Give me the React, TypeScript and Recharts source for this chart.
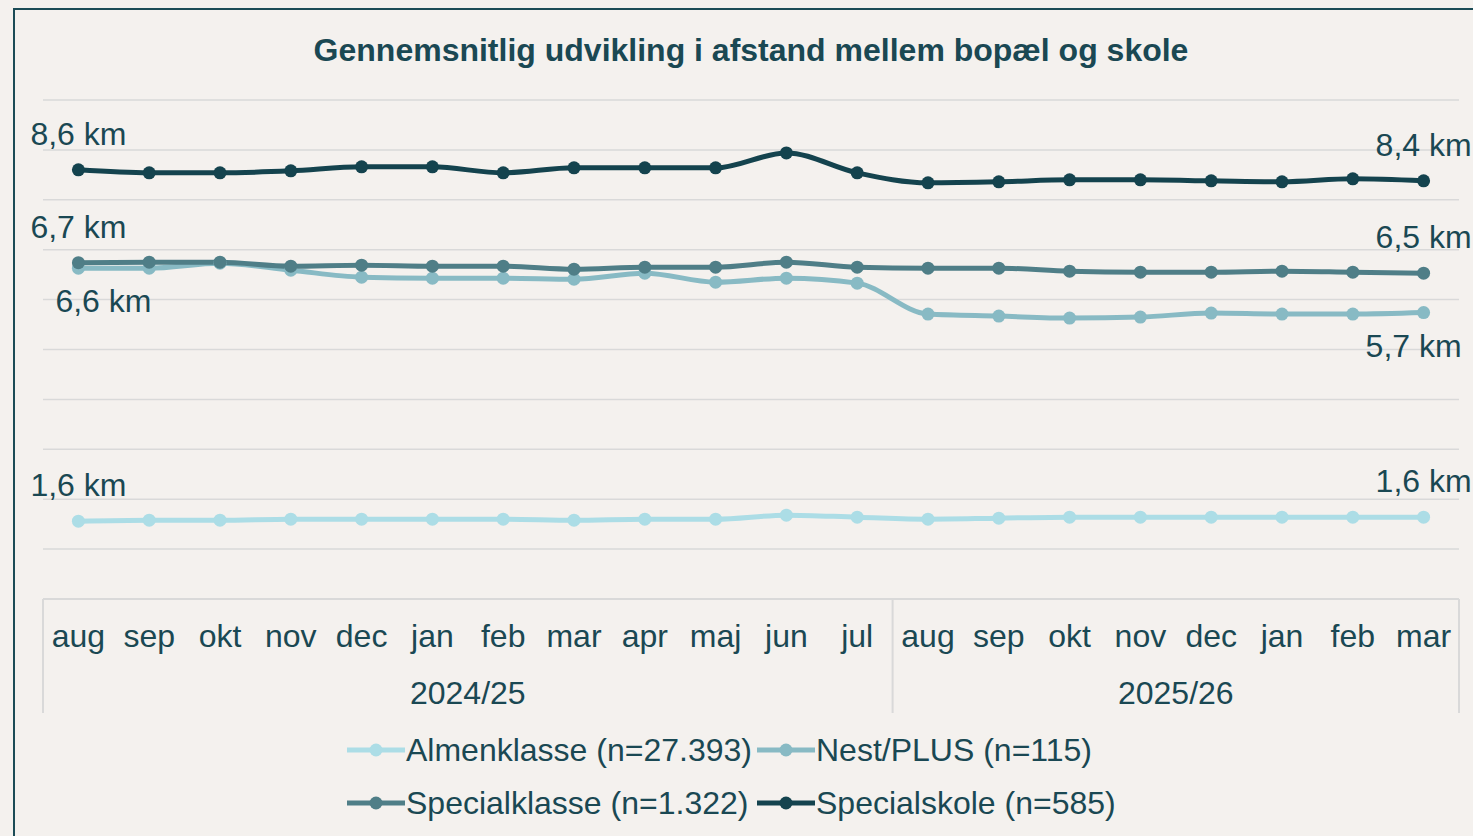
import React from "react";
import { LineChart, Line, XAxis, YAxis, CartesianGrid, LabelList } from "recharts";

// Months on the category axis, with the school year each one belongs to
const months = [
  "aug", "sep", "okt", "nov", "dec", "jan", "feb", "mar", "apr", "maj", "jun", "jul",
  "aug", "sep", "okt", "nov", "dec", "jan", "feb", "mar",
];
const seasons = [
  "2024/25", "2024/25", "2024/25", "2024/25", "2024/25", "2024/25",
  "2024/25", "2024/25", "2024/25", "2024/25", "2024/25", "2024/25",
  "2025/26", "2025/26", "2025/26", "2025/26", "2025/26", "2025/26", "2025/26", "2025/26",
];

// Average distance home - school (km)
const almenklasse = [1.56, 1.58, 1.58, 1.6, 1.6, 1.6, 1.6, 1.58, 1.6, 1.6, 1.68, 1.64, 1.6, 1.62, 1.64, 1.64, 1.64, 1.64, 1.64, 1.64];
const nestPlus = [6.63, 6.63, 6.73, 6.59, 6.45, 6.43, 6.43, 6.41, 6.53, 6.35, 6.43, 6.33, 5.71, 5.67, 5.63, 5.65, 5.73, 5.71, 5.71, 5.74];
const specialklasse = [6.74, 6.75, 6.75, 6.67, 6.69, 6.67, 6.67, 6.61, 6.65, 6.65, 6.75, 6.65, 6.63, 6.63, 6.57, 6.55, 6.55, 6.57, 6.55, 6.53];
const specialskole = [8.6, 8.54, 8.54, 8.58, 8.66, 8.66, 8.54, 8.64, 8.64, 8.64, 8.94, 8.54, 8.34, 8.36, 8.4, 8.4, 8.38, 8.36, 8.42, 8.38];

const yTicks = [0, 1, 2, 3, 4, 5, 6, 7, 8, 9, 10];

const data = months.map((month, i) => ({
  month,
  season: seasons[i],
  almen: almenklasse[i],
  nest: nestPlus[i],
  specialklasse: specialklasse[i],
  specialskole: specialskole[i],
}));

const series = [
  { key: "almen", name: "Almenklasse (n=27.393)", color: "#acdde6" },
  { key: "nest", name: "Nest/PLUS (n=115)", color: "#88bac4" },
  { key: "specialklasse", name: "Specialklasse (n=1.322)", color: "#4f7e87" },
  { key: "specialskole", name: "Specialskole (n=585)", color: "#14434e" },
];

const TEXT = "#1a4853";
const GRID = "#d9d9d9";
const BG = "#f4f1ee";
const FONT = "'Liberation Sans', Arial, sans-serif";
const FS = 32;

const W = 1473;
const H = 836;
const margin = { top: 100, right: 14, left: 43, bottom: 123 };
const AXIS_H = 114;
const BAND = (W - margin.left - margin.right) / months.length;

const fmt = (v: number) => v.toFixed(1).replace(".", ",") + " km";

// only first and last point get a label
const makeLabel = (dxFirst: number, dxLast: number, dy: number) => (props: any) => {
  const { x, y, value, index } = props;
  if (index !== 0 && index !== months.length - 1) return null;
  const dx = index === 0 ? dxFirst : dxLast;
  return (
    <text x={x + dx} y={y + dy} textAnchor="middle" fill={TEXT} fontSize={FS} fontFamily={FONT}>
      {fmt(value)}
    </text>
  );
};

const labelOffsets: Record<string, [number, number, number]> = {
  almen: [0, 0, -25],
  nest: [25, -10, 44],
  specialklasse: [0, 0, -25],
  specialskole: [0, 0, -25],
};

// two-level category axis: month + school year, with the boxed layout
const MonthTick = (props: any) => {
  const { x, y, index } = props;
  const season = seasons[index];
  const first = index === 0 || seasons[index - 1] !== season;
  const last = index === months.length - 1;
  const count = seasons.filter((s) => s === season).length;
  return (
    <g>
      <text x={x} y={y + 48} textAnchor="middle" fill={TEXT} fontSize={FS} fontFamily={FONT}>
        {months[index]}
      </text>
      {first && (
        <>
          <line x1={x - BAND / 2} x2={x - BAND / 2} y1={y} y2={y + AXIS_H} stroke={GRID} strokeWidth={2} />
          <text
            x={x - BAND / 2 + (count * BAND) / 2}
            y={y + 105}
            textAnchor="middle"
            fill={TEXT}
            fontSize={FS}
            fontFamily={FONT}
          >
            {season}
          </text>
        </>
      )}
      {last && <line x1={x + BAND / 2} x2={x + BAND / 2} y1={y} y2={y + AXIS_H} stroke={GRID} strokeWidth={2} />}
    </g>
  );
};

const LegendItem = ({ name, color }: { name: string; color: string }) => (
  <div style={{ display: "flex", alignItems: "center" }}>
    <svg width={58} height={14} style={{ marginRight: 1 }}>
      <line x1={0} x2={58} y1={7} y2={7} stroke={color} strokeWidth={5} />
      <circle cx={29} cy={7} r={6.5} fill={color} />
    </svg>
    <span>{name}</span>
  </div>
);

export default function App() {
  return (
    <div
      style={{
        position: "absolute",
        left: 0,
        top: 0,
        width: W,
        height: H,
        background: BG,
        overflow: "hidden",
        fontFamily: FONT,
      }}
    >
      <div
        style={{
          position: "absolute",
          left: 13,
          top: 8,
          width: W,
          height: H,
          border: "2px solid #1b4b56",
        }}
      />
      <div
        style={{
          position: "absolute",
          left: margin.left,
          width: W - margin.left - margin.right,
          top: 31,
          textAlign: "center",
          fontWeight: "bold",
          fontSize: 32,
          lineHeight: "38px",
          color: TEXT,
        }}
      >
        Gennemsnitlig udvikling i afstand mellem bopæl og skole
      </div>
      <div style={{ position: "absolute", left: 0, top: 0 }}>
        <LineChart width={W} height={H} data={data} margin={margin}>
          <CartesianGrid vertical={false} stroke={GRID} strokeWidth={1.5} />
          <XAxis
            dataKey="month"
            height={AXIS_H}
            padding={{ left: BAND / 2, right: BAND / 2 }}
            axisLine={{ stroke: GRID, strokeWidth: 2 }}
            tickLine={false}
            tickSize={0}
            tickMargin={0}
            interval={0}
            tick={<MonthTick />}
          />
          <YAxis hide domain={[0, 10]} ticks={yTicks} />
          {series.map((s) => {
            const [a, b, dy] = labelOffsets[s.key];
            return (
              <Line
                key={s.key}
                dataKey={s.key}
                name={s.name}
                type="monotone"
                stroke={s.color}
                strokeWidth={5}
                dot={{ r: 6.5, fill: s.color, stroke: s.color, strokeWidth: 0 }}
                activeDot={false}
                isAnimationActive={false}
              >
                <LabelList dataKey={s.key} content={makeLabel(a, b, dy)} />
              </Line>
            );
          })}
        </LineChart>
      </div>
      <div
        style={{
          position: "absolute",
          left: 347,
          top: 731,
          display: "grid",
          gridTemplateColumns: "410px auto",
          rowGap: 15,
          fontSize: FS,
          color: TEXT,
          lineHeight: "38px",
        }}
      >
        {series.map((s) => (
          <LegendItem key={s.key} name={s.name} color={s.color} />
        ))}
      </div>
    </div>
  );
}
